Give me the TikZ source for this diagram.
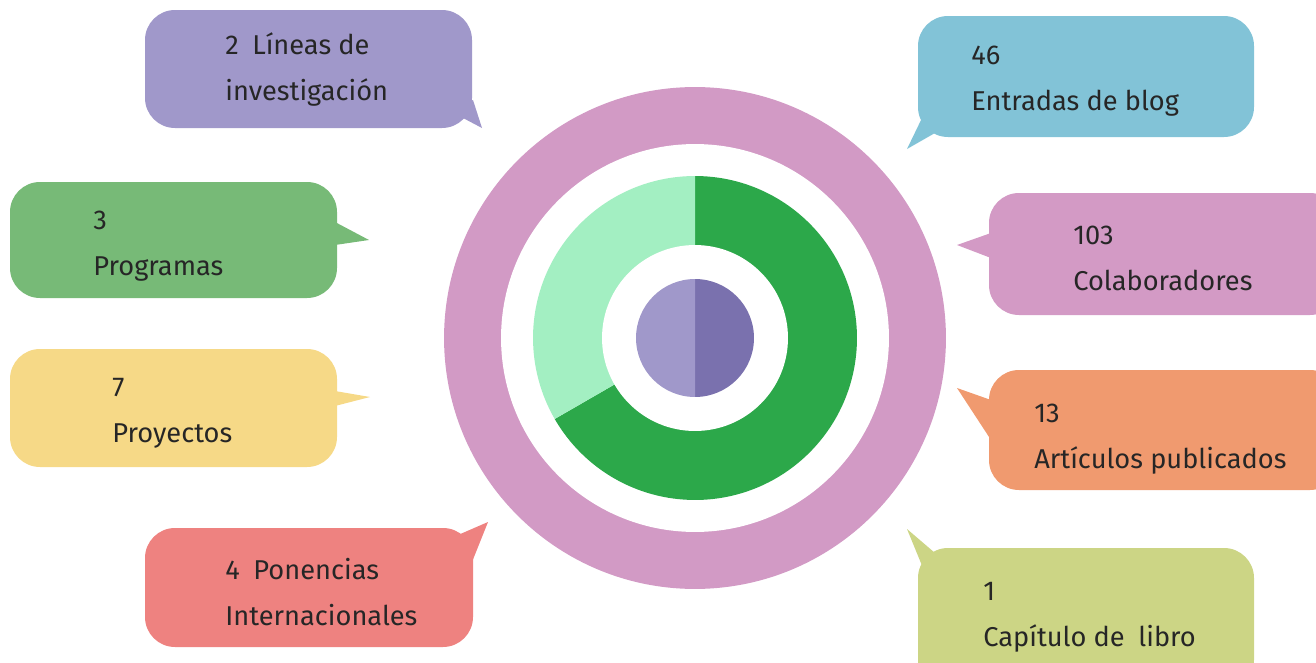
\documentclass[tikz,border=0pt]{standalone}
\usepackage{fontspec}
\setmainfont{Fira Sans}

\definecolor{ringpink}{HTML}{D29AC5}
\definecolor{greendark}{HTML}{2CA84A}
\definecolor{greenlight}{HTML}{A3EFC2}
\definecolor{lilalight}{HTML}{A098CA}
\definecolor{liladark}{HTML}{7A71AE}
\definecolor{bluebox}{HTML}{82C3D7}
\definecolor{greenbox}{HTML}{77BA77}
\definecolor{yellowbox}{HTML}{F6D987}
\definecolor{redbox}{HTML}{EE8280}
\definecolor{pinkbox}{HTML}{D39AC5}
\definecolor{orangebox}{HTML}{F09A6F}
\definecolor{olivebox}{HTML}{CCD585}
\definecolor{txtgray}{HTML}{262626}

\begin{document}
\begin{tikzpicture}[x=0.02cm,y=-0.02cm]
	\tikzstyle{bubble}=[rounded corners=0.6cm]
	\tikzstyle{every node}=[anchor=base west,inner sep=0pt,align=left,text=txtgray,
		font=\fontsize{15.5}{26}\selectfont]
	\useasboundingbox (0,0) rectangle (1316,663);
	\clip (0,0) rectangle (1316,663);
	
	% rings
	\coordinate (c) at (695,338);
	\fill[ringpink] (c) circle (5.02cm);
	\fill[white] (c) circle (3.88cm);
	\fill[greendark] (c) -- ++(90:3.24cm) arc[start angle=90,end angle=-150,radius=3.24cm] -- cycle;
	\fill[greenlight] (c) -- ++(90:3.24cm) arc[start angle=90,end angle=210,radius=3.24cm] -- cycle;
	\fill[white] (c) circle (1.86cm);
	\fill[liladark] (c) -- ++(90:1.18cm) arc[start angle=90,end angle=-90,radius=1.18cm] -- cycle;
	\fill[lilalight] (c) -- ++(90:1.18cm) arc[start angle=90,end angle=270,radius=1.18cm] -- cycle;
	
	% left bubbles
	\fill[bubble,lilalight] (145,10) rectangle (472,128);
	\fill[lilalight] (473,100) -- (482,128) -- (463,118) -- (450,110) -- cycle;
	\node (lineas) at (225,100) {2\enspace L\'ineas de\\investigaci\'on};
	
	\fill[bubble,greenbox] (10,182) rectangle (337,298);
	\fill[greenbox] (335,222) -- (369,240) -- (335,245) -- cycle;
	\node (programas) at (93,275) {3\\Programas};
	
	\fill[bubble,yellowbox] (10,349) rectangle (337,467);
	\fill[yellowbox] (335,391) -- (370,397) -- (335,406) -- cycle;
	\node (proyectos) at (112,442) {7\\Proyectos};
	
	\fill[bubble,redbox] (145,528) rectangle (473,647);
	\fill[redbox] (458,535) -- (488,522) -- (472,562) -- (460,550) -- cycle;
	\node (ponencias) at (225,625) {4\enspace Ponencias\\Internacionales};
	
	% right bubbles
	\fill[bubble,bluebox] (918,16) rectangle (1254,137);
	\fill[bluebox] (922,118) -- (907,149) -- (935,133) -- (940,120) -- cycle;
	\node (blog) at (971,110) {46\\Entradas de blog};
	
	\fill[bubble,pinkbox] (989,193) rectangle (1340,315);
	\fill[pinkbox] (991,233) -- (957,245) -- (991,258) -- cycle;
	\node (colab) at (1073,290) {103\\Colaboradores};
	
	\fill[bubble,orangebox] (989,370) rectangle (1340,490);
	\fill[orangebox] (991,400) -- (957,388) -- (991,440) -- cycle;
	\node (articulos) at (1034,468) {13\\Art\'iculos publicados};
	
	\fill[bubble,olivebox] (918,548) rectangle (1254,690);
	\fill[olivebox] (935,553) -- (907,529) -- (923,568) -- (945,575) -- cycle;
	\node (capitulo) at (983,646) {1\\Cap\'itulo de\enspace libro};
\end{tikzpicture}
\end{document}
